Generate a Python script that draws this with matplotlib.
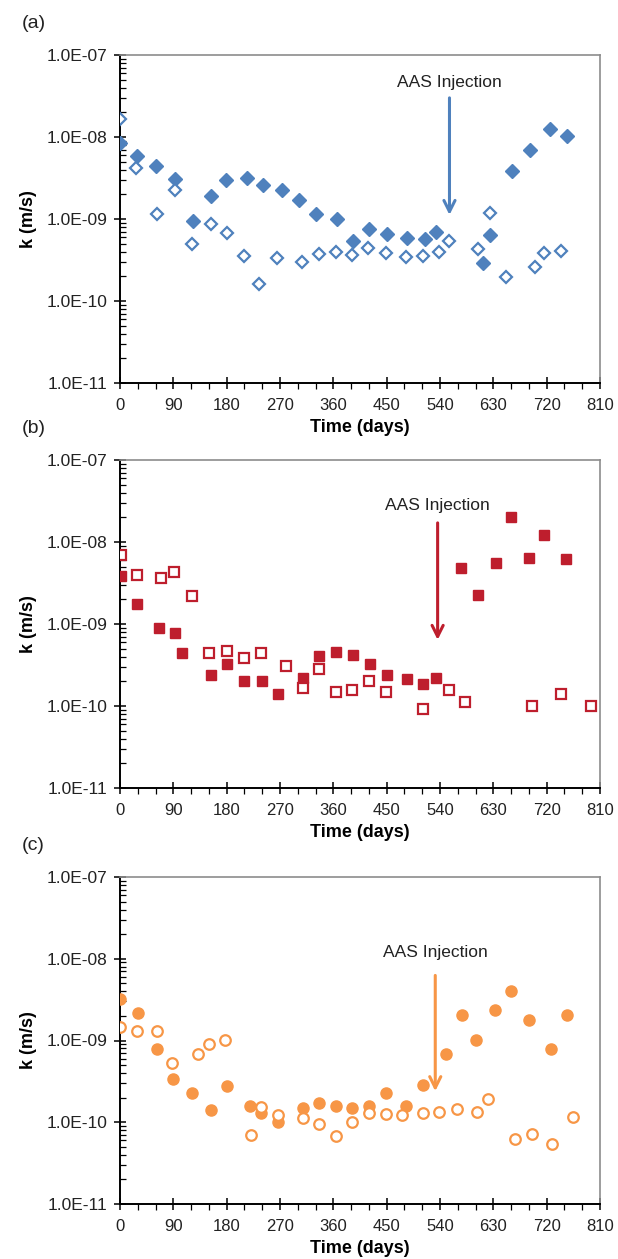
import matplotlib
matplotlib.use('Agg')
import matplotlib.pyplot as plt
import numpy as np
from matplotlib.ticker import FixedLocator, FuncFormatter, MultipleLocator, LogLocator, NullFormatter

plt.rcParams['font.family'] = ['Liberation Sans', 'DejaVu Sans']

# Panel (a) - blue diamonds
a_fill_t = [0, 28, 60, 93, 123, 154, 179, 214, 242, 273, 302, 331, 366, 393, 421,
            450, 484, 514, 534, 612, 625, 661, 692, 725, 755]
a_fill_k = [8.4e-9, 5.9e-9, 4.4e-9, 3.1e-9, 9.5e-10, 1.9e-9, 2.96e-9, 3.16e-9, 2.62e-9,
            2.24e-9, 1.72e-9, 1.16e-9, 1.0e-9, 5.4e-10, 7.55e-10, 6.56e-10, 5.86e-10,
            5.65e-10, 6.87e-10, 2.93e-10, 6.38e-10, 3.81e-9, 6.88e-9, 1.24e-8, 1.04e-8]
a_open_t = [0, 27, 62, 92, 122, 153, 181, 209, 234, 265, 307, 335, 365, 392, 419,
            449, 483, 512, 539, 555, 604, 624, 652, 700, 715, 744]
a_open_k = [1.67e-8, 4.2e-9, 1.14e-9, 2.26e-9, 4.9e-10, 8.7e-10, 6.75e-10, 3.57e-10,
            1.61e-10, 3.31e-10, 2.99e-10, 3.7e-10, 3.92e-10, 3.67e-10, 4.43e-10,
            3.81e-10, 3.44e-10, 3.54e-10, 3.92e-10, 5.44e-10, 4.35e-10, 1.17e-9,
            1.98e-10, 2.6e-10, 3.81e-10, 4.11e-10]

# Panel (b) - red squares
b_fill_t = [1, 28, 66, 93, 105, 154, 181, 209, 239, 266, 308, 336, 365, 393, 422,
            450, 484, 512, 533, 576, 604, 635, 660, 691, 716, 753]
b_fill_k = [3.8e-9, 1.73e-9, 8.85e-10, 7.69e-10, 4.38e-10, 2.42e-10, 3.21e-10, 1.99e-10,
            2.04e-10, 1.42e-10, 2.22e-10, 4.02e-10, 4.5e-10, 4.13e-10, 3.21e-10,
            2.42e-10, 2.16e-10, 1.88e-10, 2.22e-10, 4.8e-9, 2.24e-9, 5.53e-9, 2.02e-8,
            6.37e-9, 1.22e-8, 6.19e-9]
b_open_t = [1, 28, 70, 91, 122, 151, 181, 210, 238, 280, 308, 336, 365, 392, 420,
            449, 512, 555, 582, 695, 744, 794]
b_open_k = [6.87e-9, 3.94e-9, 3.66e-9, 4.3e-9, 2.2e-9, 4.46e-10, 4.67e-10, 3.87e-10,
            4.46e-10, 3.06e-10, 1.64e-10, 2.84e-10, 1.48e-10, 1.57e-10, 1.99e-10,
            1.47e-10, 9.2e-11, 1.56e-10, 1.13e-10, 9.9e-11, 1.4e-10, 9.9e-11]

# Panel (c) - orange circles
c_fill_t = [0, 31, 62, 89, 122, 153, 181, 220, 238, 266, 308, 336, 365, 392, 420,
            449, 483, 512, 550, 577, 600, 633, 660, 691, 727, 755]
c_fill_k = [3.18e-9, 2.18e-9, 7.84e-10, 3.4e-10, 2.27e-10, 1.43e-10, 2.81e-10, 1.57e-10,
            1.3e-10, 1.02e-10, 1.51e-10, 1.74e-10, 1.6e-10, 1.48e-10, 1.56e-10,
            2.25e-10, 1.57e-10, 2.89e-10, 6.8e-10, 2.06e-9, 1.02e-9, 2.33e-9, 4.02e-9,
            1.76e-9, 7.84e-10, 2.06e-9]
c_open_t = [0, 28, 63, 87, 131, 150, 178, 221, 238, 266, 308, 336, 365, 392, 420,
            449, 476, 512, 539, 569, 603, 621, 666, 695, 729, 765]
c_open_k = [1.48e-9, 1.29e-9, 1.32e-9, 5.33e-10, 6.87e-10, 9.1e-10, 1.02e-9, 7.0e-11,
            1.53e-10, 1.21e-10, 1.13e-10, 9.4e-11, 6.7e-11, 1.0e-10, 1.3e-10, 1.26e-10,
            1.23e-10, 1.3e-10, 1.32e-10, 1.46e-10, 1.34e-10, 1.95e-10, 6.25e-11,
            7.2e-11, 5.43e-11, 1.17e-10]

# injection arrows: (day, arrow top, arrow tip, text y)
arrows = [(556, 3.0e-8, 1.12e-9, 4.6e-8),
          (536, 1.71e-8, 6.4e-10, 2.75e-8),
          (532, 6.25e-9, 2.4e-10, 1.18e-8)]

blue = '#4F81BD'
red = '#BE1E2D'
orange = '#F79646'

panels = [
    ('(a)', a_fill_t, a_fill_k, a_open_t, a_open_k, blue, 'D', 6.8, 5.8),
    ('(b)', b_fill_t, b_fill_k, b_open_t, b_open_k, red, 's', 7.0, 7.4),
    ('(c)', c_fill_t, c_fill_k, c_open_t, c_open_k, orange, 'o', 8.0, 7.6),
]
# axes boxes in pixels: (top, bottom)
boxes = [(55, 383), (460, 788), (877, 1204)]
W, H = 618, 1259

fig = plt.figure(figsize=(W / 100, H / 100), dpi=100)


def sci_fmt(v, pos):
    e = int(round(np.log10(v)))
    return '1.0E{}{:02d}'.format('-' if e < 0 else '+', abs(e))


for (lab, ft, fk, ot, ok, col, mk, ms_f, ms_o), (top, bot), arr in zip(panels, boxes, arrows):
    ax = fig.add_axes([120 / W, 1 - bot / H, 480 / W, (bot - top) / H])
    ax.plot(ft, fk, linestyle='none', marker=mk, ms=ms_f, color=col, mec=col, zorder=3)
    ax.plot(ot, ok, linestyle='none', marker=mk, ms=ms_o, mfc='white', mec=col, mew=1.6, zorder=3)
    ax.set_yscale('log')
    ax.set_ylim(1e-11, 1e-7)
    ax.set_xlim(0, 810)
    ax.xaxis.set_major_locator(MultipleLocator(90))
    ax.xaxis.set_minor_locator(MultipleLocator(30))
    ax.yaxis.set_major_locator(FixedLocator([1e-11, 1e-10, 1e-9, 1e-8, 1e-7]))
    ax.yaxis.set_minor_locator(LogLocator(base=10, subs=np.arange(2, 10), numticks=20))
    ax.yaxis.set_major_formatter(FuncFormatter(sci_fmt))
    ax.yaxis.set_minor_formatter(NullFormatter())
    ax.tick_params(axis='both', which='major', direction='inout', length=8, width=1.1,
                   colors='black', labelcolor='#222222')
    ax.tick_params(axis='y', which='major', labelsize=12.5, pad=5)
    ax.tick_params(axis='x', which='major', labelsize=12, pad=7)
    ax.tick_params(axis='y', which='minor', direction='in', length=4, width=0.9)
    ax.tick_params(axis='x', which='minor', direction='out', length=4, width=0.9)
    for s in ('left', 'bottom'):
        ax.spines[s].set_color('black')
        ax.spines[s].set_linewidth(1.4)
    for s in ('top', 'right'):
        ax.spines[s].set_color('#8C8C8C')
        ax.spines[s].set_linewidth(1.2)
    ax.set_xlabel('Time (days)', fontsize=13, fontweight='bold', labelpad=4)
    ax.set_ylabel('k (m/s)', fontsize=13, fontweight='bold', labelpad=7)

    day, ytop, ytip, ytext = arr
    ax.annotate('', xy=(day, ytip), xytext=(day, ytop),
                arrowprops=dict(arrowstyle='->', color=col, lw=2.2, mutation_scale=20,
                                shrinkA=0, shrinkB=0))
    ax.text(day, ytext, 'AAS Injection', ha='center', va='center', fontsize=12.5,
            color='#222222')

    fig.text(22 / W, 1 - (top - 31) / H, lab, fontsize=14, ha='left', va='center',
             color='#222222')

fig.savefig('out.png', dpi=100)
